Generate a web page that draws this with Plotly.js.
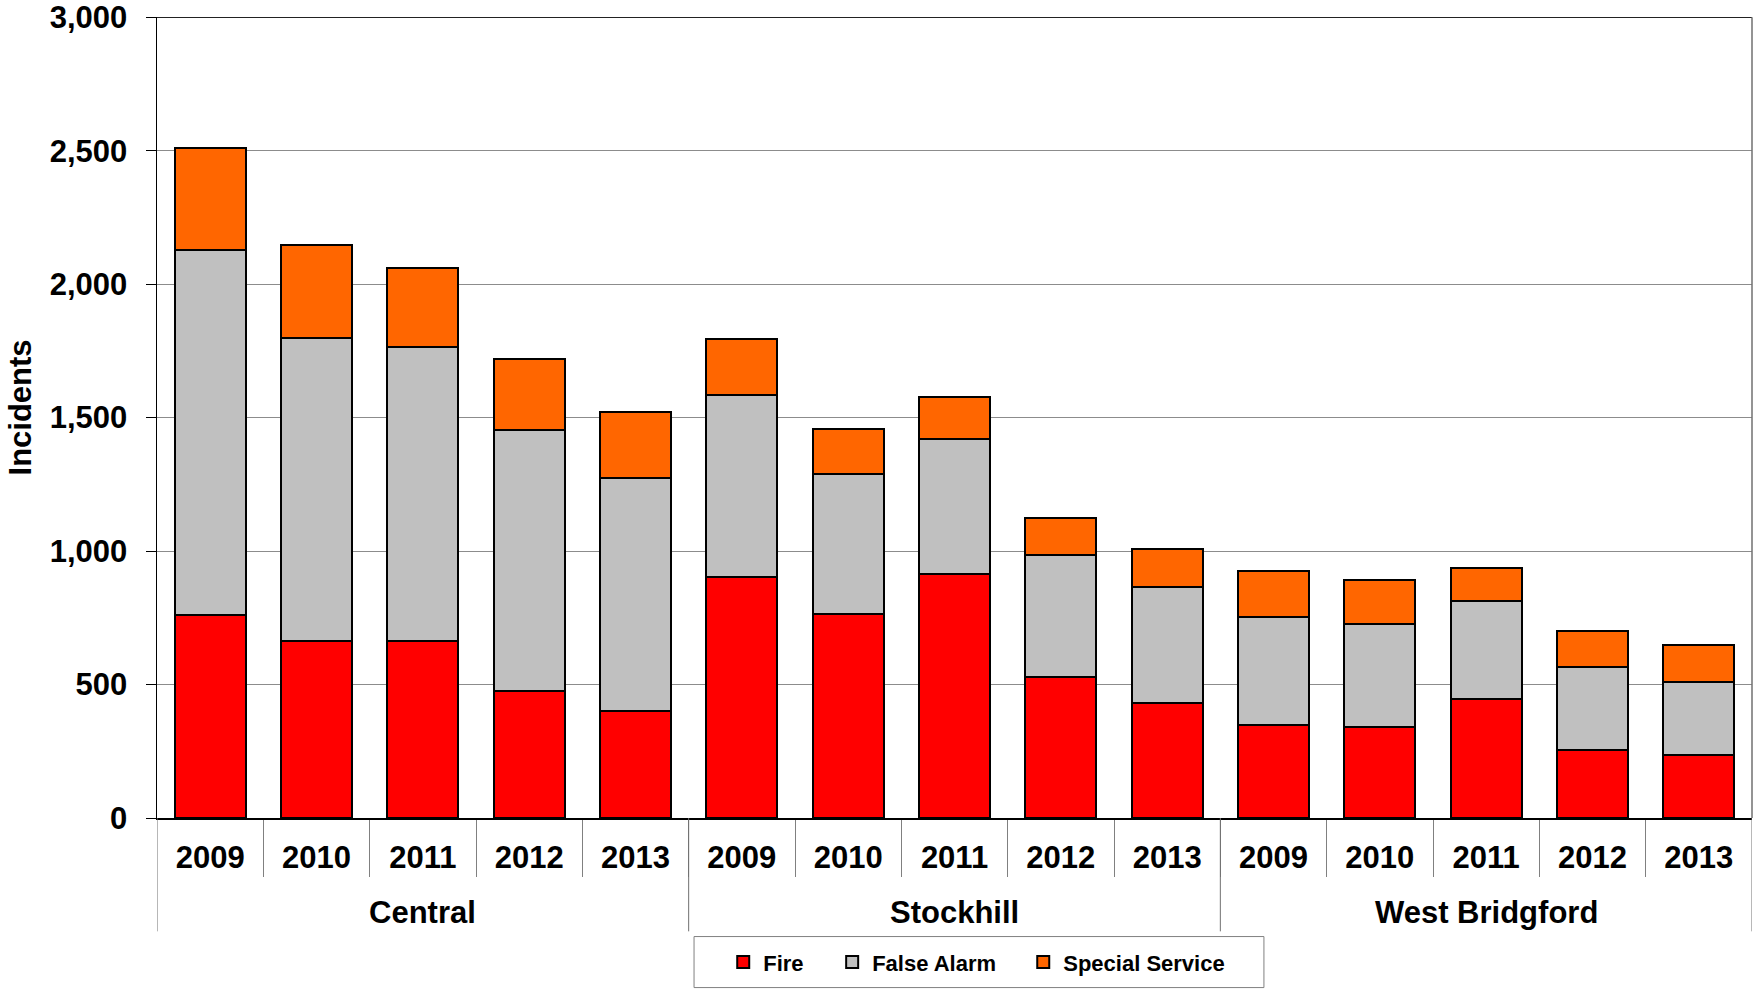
<!DOCTYPE html>
<html>
<head>
<meta charset="utf-8">
<script src="https://cdn.plot.ly/plotly-3.0.1.min.js"></script>
<style>
html,body{margin:0;padding:0;background:#fff;}
#chart{width:1753px;height:992px;}
</style>
</head>
<body>
<div id="chart"></div>
<script>
const stations = ['Central', 'Stockhill', 'West Bridgford'];
const years = ['2009', '2010', '2011', '2012', '2013'];

const fire = [761, 662, 662, 474, 401,   903, 764, 913, 528, 431,   347, 342, 444, 253, 236];
const falseAlarm = [1367, 1136, 1102, 980, 871,   681, 525, 507, 456, 436,   406, 383, 369, 311, 275];
const specialService = [383, 349, 295, 267, 248,   211, 170, 156, 139, 142,   174, 165, 122, 138, 137];

const seriesNames = ['Fire', 'False Alarm', 'Special Service'];
const seriesColors = ['#FF0000', '#C0C0C0', '#FF6600'];
const yTickVals = [0, 500, 1000, 1500, 2000, 2500, 3000];
const yTitle = 'Incidents';

// category positions on the x axis (one slot per station/year pair)
const xPos = [];
const xYearText = [];
stations.forEach((s, si) => years.forEach((y, yi) => {
  xPos.push(si * years.length + yi);
  xYearText.push(y);
}));
const nCat = xPos.length;
const yearBoundaries = xPos.slice(0, -1).map(v => v + 0.5);
const groupBoundaries = stations.map((s, si) => si * years.length - 0.5).concat([nCat - 0.5]);
const groupCentres = stations.map((s, si) => si * years.length + (years.length - 1) / 2);

const FONT = 'Liberation Sans, Arial, sans-serif';
const legendIds = ['legend', 'legend2', 'legend3'];
const legendX = [0.355, 0.4233, 0.5431];

const traces = [fire, falseAlarm, specialService].map((vals, i) => ({
  type: 'bar',
  name: seriesNames[i],
  legend: legendIds[i],
  x: xPos,
  y: vals,
  marker: {color: seriesColors[i], line: {color: '#000', width: 2}},
  hoverinfo: 'y+name'
}));

const shapes = [];
// group dividers below the axis
groupBoundaries.forEach(b => shapes.push({
  type: 'line', xref: 'x', yref: 'paper', x0: b, x1: b, y0: 0, y1: -0.1415,
  line: {color: '#707070', width: 1}
}));
// top border (dark) and right border (grey)
shapes.push({type: 'line', xref: 'paper', yref: 'y', x0: 0, x1: 1, y0: 3000, y1: 3000,
  line: {color: '#222', width: 1.5}});
shapes.push({type: 'line', xref: 'paper', yref: 'y', x0: 1, x1: 1, y0: 0, y1: 3000,
  line: {color: '#707070', width: 1.5}});
// legend frame
shapes.push({type: 'rect', xref: 'paper', yref: 'paper', x0: 0.3367, x1: 0.694, y0: -0.2117, y1: -0.148,
  line: {color: '#808080', width: 1}, fillcolor: 'rgba(0,0,0,0)'});

const annotations = stations.map((s, si) => ({
  text: s, xref: 'x', yref: 'paper', x: groupCentres[si], y: -0.118,
  xanchor: 'center', yanchor: 'middle', showarrow: false,
  font: {family: FONT, size: 31, color: '#000', weight: 'bold'}
}));
annotations.push({
  text: yTitle, xref: 'paper', yref: 'paper', x: -0.0859, y: 0.5125,
  xanchor: 'center', yanchor: 'middle', textangle: -90, showarrow: false,
  font: {family: FONT, size: 31, color: '#000', weight: 'bold'}
});

const layout = {
  width: 1753, height: 992,
  barmode: 'stack',
  bargap: 0.33,
  paper_bgcolor: '#fff', plot_bgcolor: '#fff',
  margin: {l: 157, r: 1, t: 17, b: 174},
  font: {family: FONT, color: '#000'},
  showlegend: true,
  shapes: shapes,
  annotations: annotations,
  xaxis: {
    range: [-0.5, nCat - 0.5],
    tickmode: 'array', tickvals: xPos, ticktext: xYearText,
    ticks: '', ticklabelstandoff: 11,
    minor: {tickmode: 'array', tickvals: yearBoundaries, ticks: 'outside', ticklen: 57,
            tickcolor: '#808080', tickwidth: 1, showgrid: false},
    showline: true, linecolor: '#000', linewidth: 1.5,
    tickfont: {family: FONT, size: 31, color: '#000', weight: 'bold'},
    showgrid: false, zeroline: false, fixedrange: true
  },
  yaxis: {
    range: [0, 3001],
    tickvals: yTickVals,
    tickformat: ',d',
    showline: true, linecolor: '#000', linewidth: 1.5,
    ticks: 'outside', ticklen: 10, tickcolor: '#000',
    ticklabelstandoff: 12,
    showgrid: true, gridcolor: '#8c8c8c', gridwidth: 1,
    zeroline: false,
    tickfont: {family: FONT, size: 31, color: '#000', weight: 'bold'}
  }
};
legendIds.forEach((id, i) => {
  layout[id] = {
    orientation: 'h', x: legendX[i], xanchor: 'left', y: -0.18, yanchor: 'middle',
    borderwidth: 0, bgcolor: 'rgba(0,0,0,0)',
    font: {family: FONT, size: 22, color: '#000', weight: 'bold'},
    itemwidth: 30
  };
});

Plotly.newPlot('chart', traces, layout, {displayModeBar: false, staticPlot: true});
</script>
</body>
</html>
